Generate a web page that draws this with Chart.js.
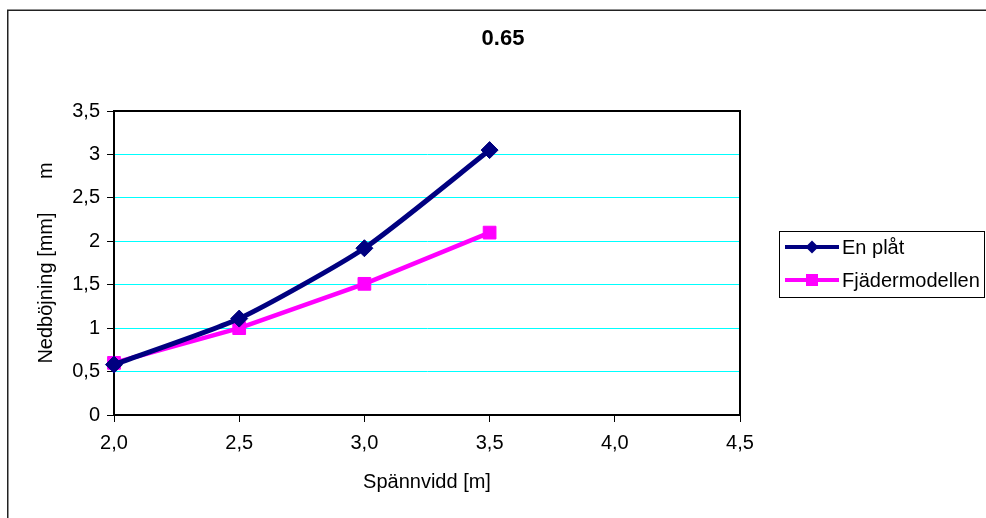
<!DOCTYPE html>
<html>
<head>
<meta charset="utf-8">
<script src="https://cdn.jsdelivr.net/npm/chart.js@4"></script>
<style>
    body { margin: 0; background: #fff; }
    #wrap { width: 986px; height: 518px; }
</style>
</head>
<body>
<div id="wrap"><canvas id="nedbojning" width="986" height="518"></canvas></div>
<script>
const titel = '0.65';
const spannvidd = [2.0, 2.5, 3.0, 3.5];
const enPlat = [0.58, 1.11, 1.92, 3.05];
const fjadermodellen = [0.60, 1.00, 1.51, 2.10];
const serieNamn = ['En plåt', 'Fjädermodellen'];
const xTitel = 'Spännvidd [m]';
const yTitel = 'Nedböjning [mm]      m';

const typsnitt = "'Liberation Sans', Arial, sans-serif";

function punkter(xs, ys) {
    return xs.map((x, i) => ({ x: x, y: ys[i] }));
}

function komma(v, dec) {
    const s = dec === undefined ? String(v) : v.toFixed(dec);
    return s.replace('.', ',');
}

// ram, rubrik, ram runt diagramytan och förklaring
const ritaExtra = {
    id: 'ritaExtra',
    beforeDraw(chart) {
        const ctx = chart.ctx;
        ctx.save();
        ctx.fillStyle = '#fff';
        ctx.fillRect(0, 0, chart.width, chart.height);
        ctx.strokeStyle = '#222';
        ctx.lineWidth = 1.5;
        ctx.strokeRect(7.75, 10.25, 1100, 600);
        ctx.fillStyle = '#000';
        ctx.font = 'bold 22px ' + typsnitt;
        ctx.textAlign = 'center';
        ctx.textBaseline = 'middle';
        ctx.fillText(titel, 503, 39);
        ctx.restore();
    },
    beforeDatasetsDraw(chart) {
        const { ctx, chartArea: a } = chart;
        ctx.save();
        ctx.strokeStyle = '#000';
        ctx.lineWidth = 2;
        ctx.strokeRect(a.left, a.top, a.right - a.left, a.bottom - a.top);
        ctx.restore();
    },
    afterDraw(chart) {
        const ctx = chart.ctx;
        ctx.save();
        ctx.strokeStyle = '#000';
        ctx.lineWidth = 1;
        ctx.strokeRect(779.5, 231.5, 205, 66);
        chart.data.datasets.forEach((ds, i) => {
            const y = 247 + i * 33;
            ctx.strokeStyle = ds.borderColor;
            ctx.lineWidth = 4;
            ctx.beginPath();
            ctx.moveTo(785, y);
            ctx.lineTo(839, y);
            ctx.stroke();
            ctx.fillStyle = ds.borderColor;
            ctx.beginPath();
            if (ds.pointStyle === 'rectRot') {
                ctx.moveTo(812 - 6.5, y);
                ctx.lineTo(812, y - 6.5);
                ctx.lineTo(812 + 6.5, y);
                ctx.lineTo(812, y + 6.5);
                ctx.closePath();
            } else {
                ctx.rect(812 - 6, y - 6, 12, 12);
            }
            ctx.fill();
            ctx.fillStyle = '#000';
            ctx.font = '20px ' + typsnitt;
            ctx.textAlign = 'left';
            ctx.textBaseline = 'middle';
            ctx.fillText(ds.label, 842, y + 1);
        });
        ctx.restore();
    }
};

Chart.defaults.font.family = typsnitt;
Chart.defaults.font.size = 20;
Chart.defaults.color = '#000';

new Chart(document.getElementById('nedbojning'), {
    type: 'line',
    data: {
        datasets: [{
            label: serieNamn[0],
            data: punkter(spannvidd, enPlat),
            borderColor: '#000080',
            backgroundColor: '#000080',
            borderWidth: 5,
            tension: 0.2,
            pointStyle: 'rectRot',
            pointRadius: 8.5,
            pointBorderWidth: 1,
            clip: false
        }, {
            label: serieNamn[1],
            data: punkter(spannvidd, fjadermodellen),
            borderColor: '#FF00FF',
            backgroundColor: '#FF00FF',
            borderWidth: 4.5,
            tension: 0,
            pointStyle: 'rect',
            pointRadius: 9,
            pointBorderWidth: 1,
            clip: false
        }]
    },
    options: {
        responsive: false,
        animation: false,
        layout: {
            padding: { top: 111, right: 246, left: 0, bottom: 0 }
        },
        plugins: {
            legend: { display: false },
            title: { display: false },
            tooltip: { enabled: false }
        },
        scales: {
            x: {
                type: 'linear',
                min: 2,
                max: 4.5,
                afterFit(scale) { scale.height = 103; },
                ticks: {
                    stepSize: 0.5,
                    padding: 9,
                    maxRotation: 0,
                    callback: v => komma(v, 1)
                },
                grid: {
                    drawOnChartArea: false,
                    color: '#000',
                    tickColor: '#000',
                    tickLength: 7
                },
                border: { color: '#000', width: 2 },
                title: {
                    display: true,
                    text: xTitel,
                    padding: { top: 0, bottom: 24 }
                }
            },
            y: {
                min: 0,
                max: 3.5,
                afterFit(scale) { scale.width = 114; },
                ticks: {
                    stepSize: 0.5,
                    padding: 7,
                    callback: v => komma(v)
                },
                grid: {
                    color: '#00FFFF',
                    lineWidth: 1,
                    tickColor: '#000',
                    tickLength: 7
                },
                border: { color: '#000', width: 2 },
                title: {
                    display: true,
                    text: yTitel,
                    padding: { top: 34, bottom: 0 }
                }
            }
        }
    },
    plugins: [ritaExtra]
});
</script>
</body>
</html>
